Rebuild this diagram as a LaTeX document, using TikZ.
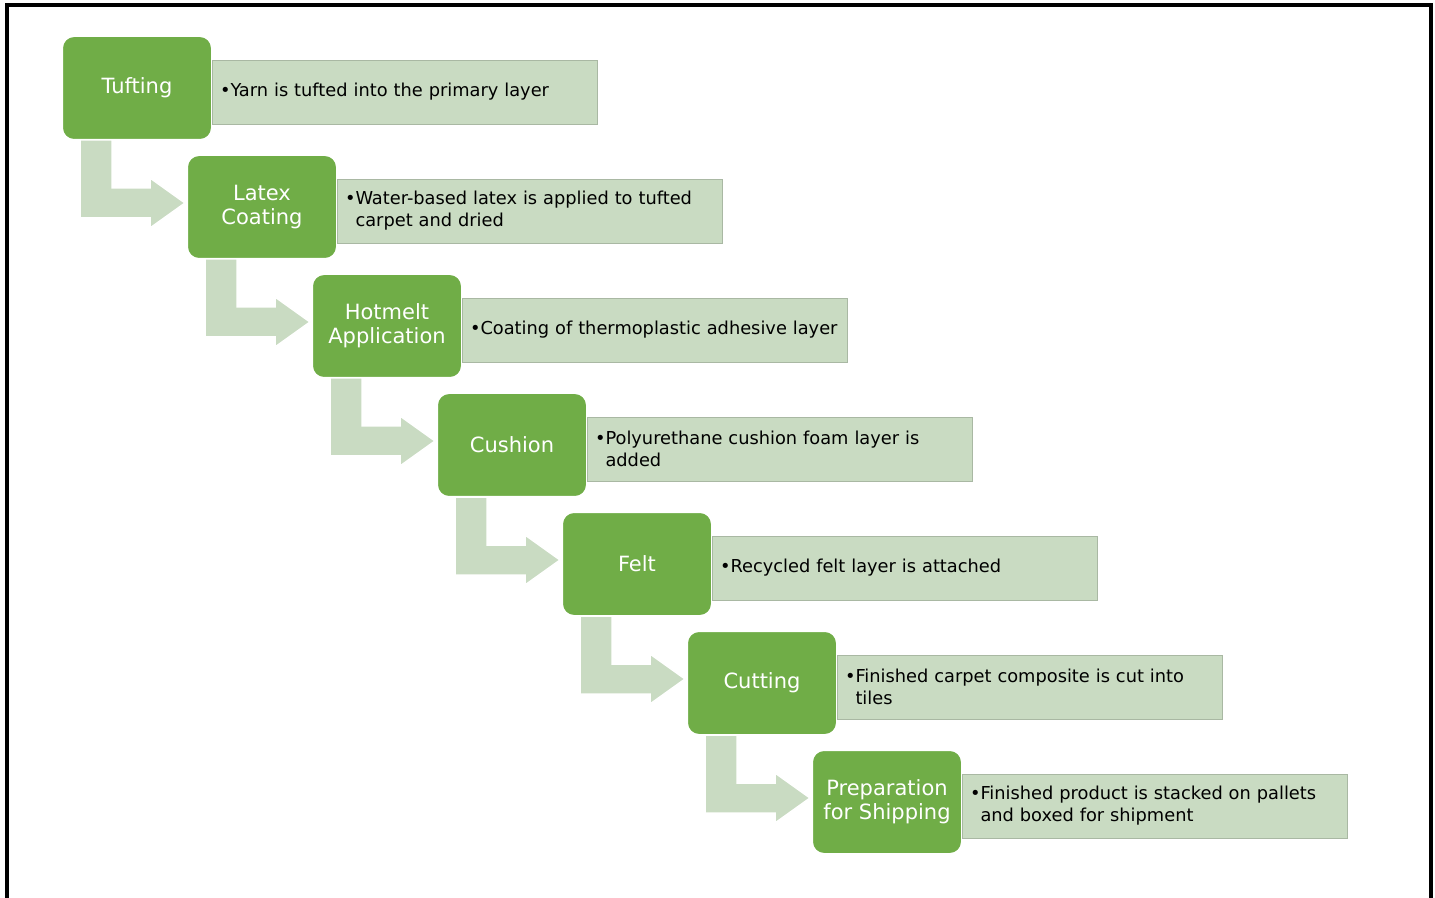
\documentclass[tikz,border=0pt]{standalone}
\usepackage{fontspec}
\setmainfont{DejaVu Sans}
\usetikzlibrary{positioning,calc}
\definecolor{cgreen}{HTML}{70AD47}
\definecolor{clight}{HTML}{C9DBC2}
\definecolor{cedge}{HTML}{A9B8A3}
\tikzset{
  stepbox/.style={rectangle, rounded corners=6pt, draw=white, line width=1pt, fill=cgreen,
                  text=white, minimum width=75pt, minimum height=52pt, inner sep=0pt,
                  outer sep=0pt, align=center, font=\fontsize{10.5}{12}\selectfont},
  descbox/.style={rectangle, draw=cedge, line width=0.4pt, fill=clight, text width=184.5pt,
                  inner xsep=4pt, outer sep=0pt, minimum height=32pt, align=left,
                  font=\fontsize{8.9}{11}\selectfont},
  flowfill/.style={fill=clight, draw=white, line width=0.75pt}
}
% bent arrow from the foot of one step to the side of the next
\newcommand{\stepArrow}[2]{%
  \path ($(#2.west)+(-2,-4)$) coordinate (tip);
  \filldraw[flowfill] ($(#1.south west)+(18,0)$) -- ($(#1.south west)+(50,0)$)
    |- ($(tip)+(-35,-15)$) -- ($(tip)+(-35,-25)$) -- (tip) -- ($(tip)+(-35,25)$)
    -- ($(tip)+(-35,15)$) -| ($(#1.south west)+(18,0)$) -- cycle;
}
\newcommand{\hang}{\phantom{\textbullet}}

\begin{document}
\begin{tikzpicture}[x=0.5pt, y=-0.5pt]
\clip (0,0) rectangle (1435,898);
\fill[white] (0,0) rectangle (1435,898);
\draw[line width=2pt] (7,5) rectangle (1431,960);

\node[stepbox] (t1) at (137,88) {Tufting};
\node[stepbox, below right=7.5pt and -12.5pt of t1] (t2) {Latex\\Coating};
\node[stepbox, below right=7.5pt and -12.5pt of t2] (t3) {Hotmelt\\Application};
\node[stepbox, below right=7.5pt and -12.5pt of t3] (t4) {Cushion};
\node[stepbox, below right=7.5pt and -12.5pt of t4] (t5) {Felt};
\node[stepbox, below right=7.5pt and -12.5pt of t5] (t6) {Cutting};
\node[stepbox, below right=7.5pt and -12.5pt of t6] (t7) {Preparation\\for Shipping};

\node[descbox, right=0pt of t1, yshift=-2pt] (d1) {\textbullet Yarn is tufted into the primary layer};
\node[descbox, right=0pt of t2, yshift=-2pt] (d2) {\textbullet Water-based latex is applied to tufted\\\hang carpet and dried};
\node[descbox, right=0pt of t3, yshift=-2pt] (d3) {\textbullet Coating of thermoplastic adhesive layer};
\node[descbox, right=0pt of t4, yshift=-2pt] (d4) {\textbullet Polyurethane cushion foam layer is\\\hang added};
\node[descbox, right=0pt of t5, yshift=-2pt] (d5) {\textbullet Recycled felt layer is attached};
\node[descbox, right=0pt of t6, yshift=-2pt] (d6) {\textbullet Finished carpet composite is cut into\\\hang tiles};
\node[descbox, right=0pt of t7, yshift=-2pt] (d7) {\textbullet Finished product is stacked on pallets\\\hang and boxed for shipment};

\stepArrow{t1}{t2}
\stepArrow{t2}{t3}
\stepArrow{t3}{t4}
\stepArrow{t4}{t5}
\stepArrow{t5}{t6}
\stepArrow{t6}{t7}
\end{tikzpicture}
\end{document}
